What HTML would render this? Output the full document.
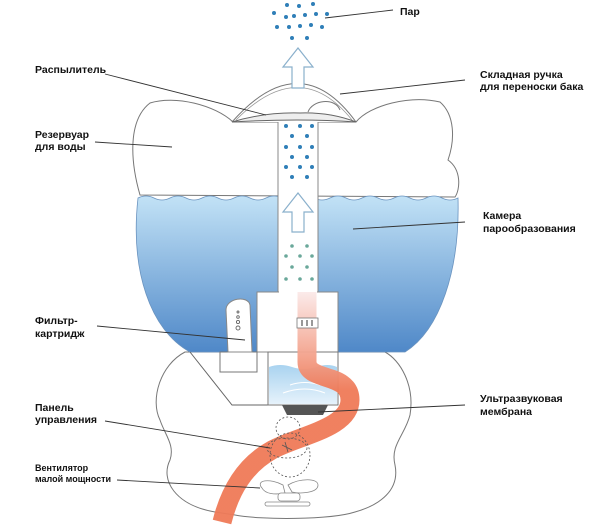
<!DOCTYPE html>
<html><head><meta charset="utf-8"><style>
body{margin:0;background:#fff}
svg{display:block}
text{font-family:"Liberation Sans","DejaVu Sans",sans-serif;font-size:10.5px;font-weight:bold;fill:#111}
</style></head><body>
<svg width="600" height="525" viewBox="0 0 600 525" xmlns="http://www.w3.org/2000/svg">
<defs>
<linearGradient id="w" x1="0" y1="0" x2="0" y2="1">
<stop offset="0" stop-color="#c2e2f6"/><stop offset="1" stop-color="#4f88c8"/></linearGradient>
<linearGradient id="p" gradientUnits="userSpaceOnUse" x1="0" y1="290" x2="0" y2="390">
<stop offset="0" stop-color="#fbecec"/><stop offset="1" stop-color="#ef7a58"/></linearGradient>
<linearGradient id="wb" x1="0" y1="0" x2="0" y2="1">
<stop offset="0" stop-color="#a9d3f0"/><stop offset="1" stop-color="#e6f2fb"/></linearGradient>
</defs>
<!-- base outline -->
<path d="M185,352 C160,365 150,400 160,420 C165,435 175,445 170,460 C160,480 175,505 215,512 L235,515 C260,520 330,520 355,512 C380,505 400,490 395,465 C390,445 405,435 410,415 C415,385 400,360 385,352 Z" fill="#fff" stroke="#777" stroke-width="1"/>
<!-- upper tank outline -->
<path d="M140,195 C130,160 128,120 150,103 C175,95 215,105 233,122 L356,122 C370,105 410,95 440,102 C455,115 455,140 448,160 C462,170 460,190 455,197 Z" fill="#fff" stroke="#777" stroke-width="1"/>
<!-- water -->
<path d="M138,198 Q146,194 154,198 T170,198 T186,198 T202,198 T218,198 T234,198 T250,198 T266,198 T282,198 T298,198 T314,198 T330,198 T346,198 T362,198 T378,198 T394,198 T410,198 T426,198 T442,198 T458,198 C460,270 440,330 405,352 L190,352 C150,330 130,270 138,198 Z" fill="url(#w)" stroke="#6a93bf" stroke-width="0.8"/>
<!-- inner trapezoid -->
<path d="M190,352 L232,405 L338,405" fill="none" stroke="#666" stroke-width="1"/>
<!-- stem -->
<rect x="278" y="113" width="40" height="180" fill="#fff" stroke="#888" stroke-width="1"/>
<rect x="257" y="292" width="81" height="60" fill="#fff" stroke="#888" stroke-width="1"/>
<rect x="279" y="290" width="38" height="4" fill="#fff"/>
<!-- water box -->
<rect x="268" y="352" width="70" height="53" fill="#fff" stroke="#777" stroke-width="1"/>
<path d="M269,367 Q280,363 292,367 T316,367 T337,367 L337,404 L269,404 Z" fill="url(#wb)"/>
<path d="M283,393 Q305,385 325,393 M290,385 Q305,380 320,385" fill="none" stroke="#fff" stroke-width="1"/>
<path d="M282,405 L328,405 L323,415 L287,415 Z" fill="#555"/>
<!-- filter -->
<rect x="220" y="352" width="37" height="20" fill="#fff" stroke="#777"/>
<path d="M228,352 L226,310 C226,298 248,295 250,305 L252,352 Z" fill="#fff" stroke="#888"/>
<g fill="none" stroke="#666" stroke-width="0.9"><circle cx="238" cy="312" r="1"/><circle cx="238" cy="317" r="1.3"/><circle cx="238" cy="322" r="1.6"/><circle cx="238" cy="328" r="2"/></g>
<!-- tube -->
<path d="M307,292 L307,362 C307,382 350,372 350,400 C350,428 300,435 272,450 C245,465 230,490 222,522" fill="none" stroke="url(#p)" stroke-width="19" opacity="0.95"/>
<rect x="297" y="318" width="21" height="10" fill="#fff" stroke="#777" stroke-width="0.8"/>
<path d="M302,320v6M307,320v6M312,320v6" stroke="#333" stroke-width="1"/>
<!-- dashed circles -->
<g fill="none" stroke="#555" stroke-width="0.8" stroke-dasharray="2,2">
<ellipse cx="290" cy="455" rx="20" ry="22"/><ellipse cx="287" cy="448" rx="20" ry="10"/><ellipse cx="288" cy="428" rx="12" ry="11"/>
</g>
<path d="M282,445 L292,450 M285,442 L288,452" stroke="#555" stroke-width="0.8"/>
<!-- fan -->
<g fill="#fff" stroke="#888" stroke-width="0.8">
<path d="M262,488 C255,480 270,478 283,485 L285,493 C275,495 265,494 262,488 Z"/>
<path d="M288,485 C300,478 318,478 318,485 C318,493 300,494 292,492 Z"/>
<rect x="278" y="493" width="22" height="8" rx="3"/>
<rect x="265" y="502" width="45" height="4" rx="2"/>
</g>
<!-- dome -->
<path d="M232,122 Q300,45 356,122" fill="#fff" stroke="#777" stroke-width="1"/>
<path d="M236,120 Q300,55 352,120" fill="none" stroke="#999" stroke-width="0.8"/>
<path d="M308,112 C312,100 335,97 340,110" fill="#fff" stroke="#777"/>
<path d="M232,122 Q265,112 300,113 Q330,112 356,122 Q300,118 232,122 Z" fill="#eee" stroke="#666" stroke-width="1"/>
<!-- arrows -->
<path d="M292,88 L292,67 L283,67 L298,48 L313,67 L304,67 L304,88 Z" fill="#fff" stroke="#8ab0cc" stroke-width="1.2"/>
<path d="M292,232 L292,212 L283,212 L298,193 L313,212 L304,212 L304,232 Z" fill="#fff" stroke="#8ab0cc" stroke-width="1.2"/>
<!-- dots -->
<g fill="#2f7fb8">
<circle cx="287" cy="5" r="2"/><circle cx="299" cy="6" r="2"/><circle cx="313" cy="4" r="2"/>
<circle cx="274" cy="13" r="2"/><circle cx="286" cy="17" r="2"/><circle cx="294" cy="16" r="2"/><circle cx="305" cy="15" r="2"/><circle cx="316" cy="14" r="2"/><circle cx="327" cy="14" r="2"/>
<circle cx="277" cy="27" r="2"/><circle cx="289" cy="27" r="2"/><circle cx="300" cy="26" r="2"/><circle cx="311" cy="25" r="2"/><circle cx="322" cy="27" r="2"/>
<circle cx="292" cy="38" r="2"/><circle cx="307" cy="38" r="2"/>
<circle cx="286" cy="126" r="2"/><circle cx="300" cy="126" r="2"/><circle cx="312" cy="126" r="2"/>
<circle cx="292" cy="136" r="2"/><circle cx="307" cy="136" r="2"/>
<circle cx="286" cy="147" r="2"/><circle cx="300" cy="147" r="2"/><circle cx="312" cy="147" r="2"/>
<circle cx="292" cy="157" r="2"/><circle cx="307" cy="157" r="2"/>
<circle cx="286" cy="167" r="2"/><circle cx="300" cy="167" r="2"/><circle cx="312" cy="167" r="2"/>
<circle cx="292" cy="177" r="2"/><circle cx="307" cy="177" r="2"/>
</g>
<g fill="#6aa89a">
<circle cx="292" cy="246" r="1.8"/><circle cx="307" cy="246" r="1.8"/>
<circle cx="286" cy="256" r="1.8"/><circle cx="300" cy="256" r="1.8"/><circle cx="312" cy="256" r="1.8"/>
<circle cx="292" cy="267" r="1.8"/><circle cx="307" cy="267" r="1.8"/>
<circle cx="286" cy="279" r="1.8"/><circle cx="300" cy="279" r="1.8"/><circle cx="312" cy="279" r="1.8"/>
</g>
<!-- leaders -->
<g stroke="#333" stroke-width="0.9" fill="none">
<path d="M393,10 L325,18"/><path d="M105,74 L266,115"/><path d="M465,80 L340,94"/>
<path d="M95,142 L172,147"/><path d="M465,222 L353,229"/><path d="M97,326 L245,340"/>
<path d="M465,405 L318,412"/><path d="M105,421 L270,448"/><path d="M117,480 L260,488"/>
</g>
<text x="400" y="15">Пар</text>
<text x="35" y="73">Распылитель</text>
<text x="480" y="78">Складная ручка</text><text x="480" y="90">для переноски бака</text>
<text x="35" y="138">Резервуар</text><text x="35" y="150">для воды</text>
<text x="483" y="219">Камера</text><text x="483" y="232">парообразования</text>
<text x="35" y="324">Фильтр-</text><text x="35" y="337">картридж</text>
<text x="480" y="402">Ультразвуковая</text><text x="480" y="415">мембрана</text>
<text x="35" y="411">Панель</text><text x="35" y="423">управления</text>
<text x="35" y="471" style="font-size:9px">Вентилятор</text><text x="35" y="482" style="font-size:9px">малой мощности</text>
</svg>
</body></html>
